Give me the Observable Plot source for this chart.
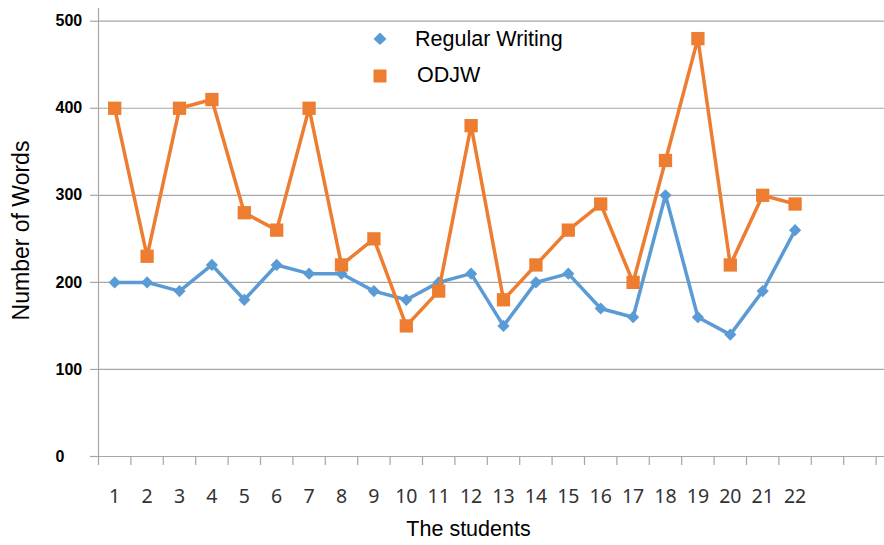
<!DOCTYPE html>
<html>
<head>
<meta charset="utf-8">
<script src="https://cdn.jsdelivr.net/npm/d3@7"></script>
<script src="https://cdn.jsdelivr.net/npm/@observablehq/plot@0.6"></script>
<style>
  html, body { margin: 0; padding: 0; background: #fff; }
  #wrap { position: relative; width: 884px; height: 545px; }
  #legend { position: absolute; left: 373px; top: 27px; font-family: "Liberation Sans", Arial, sans-serif; font-size: 21.5px; color: #000; }
  .item { position: absolute; white-space: nowrap; }
  .item svg { position: absolute; }
</style>
</head>
<body>
<div id="wrap"></div>
<script>
// ---- data ----
const students = [1, 2, 3, 4, 5, 6, 7, 8, 9, 10, 11, 12, 13, 14, 15, 16, 17, 18, 19, 20, 21, 22];
const regularWriting = [200, 200, 190, 220, 180, 220, 210, 210, 190, 180, 200, 210, 150, 200, 210, 170, 160, 300, 160, 140, 190, 260];
const odjw = [400, 230, 400, 410, 280, 260, 400, 220, 250, 150, 190, 380, 180, 220, 260, 290, 200, 340, 480, 220, 300, 290];
const seriesNames = ["Regular Writing", "ODJW"];
const yTicks = [0, 100, 200, 300, 400, 500];
const slots = 24; // category slots on the x axis (22 used)
const xTitle = "The students";
const yTitle = "Number of Words";

const blue = "#5B9BD5";
const orange = "#ED7D31";
const grid = "#a6a6a6";
const arial = '"Liberation Sans", Arial, sans-serif';

const regRows = students.map((s, i) => ({student: s, value: regularWriting[i], series: seriesNames[0]}));
const odjwRows = students.map((s, i) => ({student: s, value: odjw[i], series: seriesNames[1]}));
const boundaries = d3.range(0, slots + 1).map(k => k + 0.5);

const chart = Plot.plot({
  width: 884,
  height: 545,
  marginLeft: 98,
  marginRight: 0,
  marginTop: 8,
  marginBottom: 89,
  insetRight: 8.4,
  insetTop: 12.7,
  x: {domain: [0.5, slots + 0.5]},
  y: {domain: [0, 500]},
  style: {fontFamily: arial, background: "#fff", color: "#000"},
  marks: [
    Plot.gridY(yTicks, {stroke: grid, strokeOpacity: 1, strokeWidth: 1.2}),
    Plot.axisY(yTicks, {tickSize: 8, tickPadding: 35, textAnchor: "start", fontWeight: "bold", fontSize: 16, stroke: grid, strokeWidth: 1.2, fill: "#000", label: null}),
    Plot.ruleX([0.5], {stroke: grid, strokeWidth: 1.2}),
    Plot.axisX(boundaries, {tickSize: 9, tickFormat: () => "", stroke: grid, strokeWidth: 1.2, label: null}),
    Plot.axisX(students, {tickSize: 0, tickPadding: 33, fontSize: 19.5, fontFamily: '"Noto Sans", sans-serif', fill: "#333", label: null}),
    Plot.line(regRows, {x: "student", y: "value", stroke: blue, strokeWidth: 3.5}),
    Plot.dot(regRows, {x: "student", y: "value", symbol: "diamond2", r: 5.5, fill: blue}),
    Plot.line(odjwRows, {x: "student", y: "value", stroke: orange, strokeWidth: 3.5}),
    Plot.dot(odjwRows, {x: "student", y: "value", symbol: "square", r: 7.5, fill: orange}),
    Plot.text([xTitle], {frameAnchor: "bottom", lineAnchor: "middle", textAnchor: "middle", dy: 73, dx: -23, fontSize: 21.5, fill: "#000"}),
    Plot.text([yTitle], {frameAnchor: "left", lineAnchor: "middle", textAnchor: "middle", rotate: -90, dx: -77, dy: -2, fontSize: 23, fill: "#000"})
  ]
});

const wrap = document.getElementById("wrap");
wrap.appendChild(chart);

// legend (inside plot area, as in the reference)
const legend = document.createElement("div");
legend.id = "legend";
legend.innerHTML = `
  <div class="item" style="left:0;top:0;">
    <svg width="14" height="14" style="left:0;top:5px;"><polygon points="7,0.5 13.5,7 7,13 0.5,7" fill="${blue}"/></svg>
    <span style="position:absolute;left:42px;top:0;line-height:24px;">${seriesNames[0]}</span>
  </div>
  <div class="item" style="left:0;top:36px;">
    <svg width="14" height="14" style="left:0;top:6px;"><rect x="0.5" y="0.5" width="13" height="13" fill="${orange}"/></svg>
    <span style="position:absolute;left:44px;top:0;line-height:24px;">${seriesNames[1]}</span>
  </div>`;
wrap.appendChild(legend);
</script>
</body>
</html>
